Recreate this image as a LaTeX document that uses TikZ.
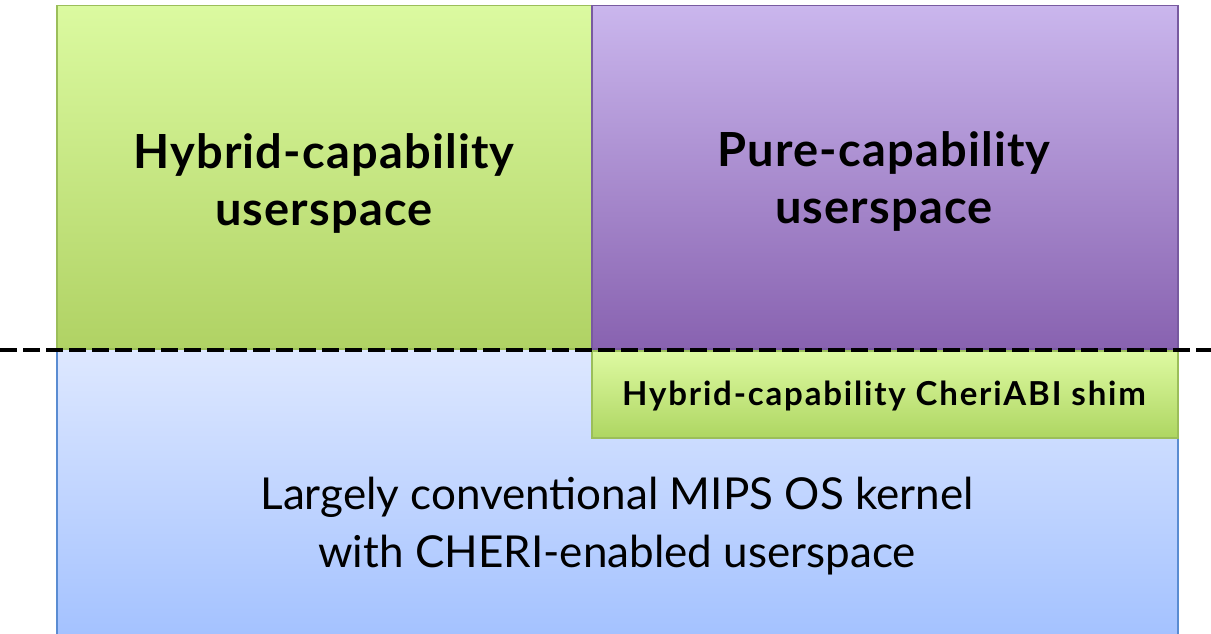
\documentclass[tikz,border=0pt]{standalone}
\usepackage{fontspec}
\setmainfont{Lato}
\begin{document}
\begin{tikzpicture}[x=1pt,y=-1pt,
  box/.style={draw, line width=1.5pt, inner sep=0pt, anchor=north west},
  bigt/.style={font=\fontsize{47}{57}\selectfont\bfseries\addfontfeature{LetterSpace=2.5}, align=center},
  kt/.style={font=\fontsize{44}{58}\selectfont, align=center},
  shimt/.style={font=\fontsize{33}{36}\selectfont\bfseries\addfontfeature{LetterSpace=5.5}}]
\useasboundingbox (0,0) rectangle (1211,634);
% blue kernel box
\node[box, draw={rgb,255:red,90;green,140;blue,210}, top color={rgb,255:red,222;green,232;blue,255}, bottom color={rgb,255:red,164;green,194;blue,255}, minimum width=1121pt, minimum height=286pt] (kern) at (56,348) {};
% green hybrid box
\node[box, draw={rgb,255:red,155;green,190;blue,90}, top color={rgb,255:red,219;green,250;blue,160}, bottom color={rgb,255:red,176;green,210;blue,100}, minimum width=535pt, minimum height=343pt] (hyb) at (56,5) {};
% purple pure box
\node[box, draw={rgb,255:red,120;green,90;blue,160}, top color={rgb,255:red,202;green,182;blue,237}, bottom color={rgb,255:red,136;green,98;blue,176}, minimum width=586pt, minimum height=343pt] (pure) at (591,5) {};
% shim box
\node[box, draw={rgb,255:red,155;green,190;blue,90}, top color={rgb,255:red,222;green,250;blue,162}, bottom color={rgb,255:red,174;green,214;blue,98}, minimum width=586pt, minimum height=87pt] (shim) at (591,350) {};
% texts
\node[bigt] (hybt) at (324,183) {Hybrid-capability\\userspace};
\node[bigt] (puret) at (884,181) {Pure-capability\\userspace};
\node[shimt] (shimtx) at (884,396) {Hybrid-capability CheriABI shim};
\node[kt] (kernt) at (617,526) {Largely conventional MIPS OS kernel\\with CHERI-enabled userspace};
% dashed line
\coordinate (dl) at (0,350);
\coordinate (dr) at (1211,350);
\draw[line width=4.5pt, dash pattern=on 17pt off 6pt] (dl) -- (dr);
\end{tikzpicture}
\end{document}
